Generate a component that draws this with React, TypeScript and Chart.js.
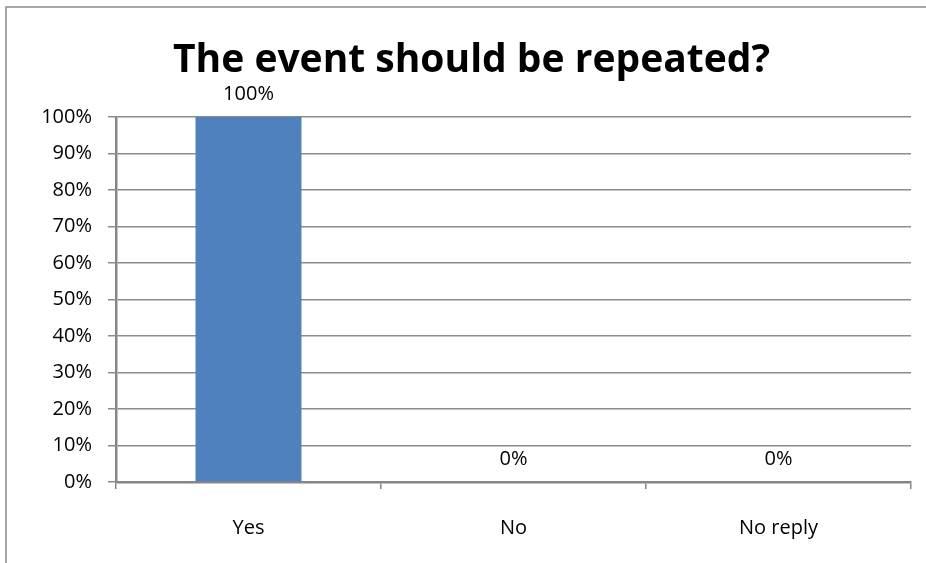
import React, { useEffect, useRef } from "react";
import { Chart, registerables } from "chart.js";

Chart.register(...registerables);

const categories = ["Yes", "No", "No reply"];
const shares = [100, 0, 0];
const yTicks = [0, 10, 20, 30, 40, 50, 60, 70, 80, 90, 100];
const chartTitle = "The event should be repeated?";

const FONT = "'Open Sans', 'DejaVu Sans', sans-serif";

// Outer frame of the chart object: left and top edges only are visible.
const framePlugin = {
  id: "frame",
  beforeDraw(chart: any) {
    const ctx = chart.ctx;
    ctx.save();
    ctx.strokeStyle = "#8a8a8a";
    ctx.lineWidth = 1.5;
    ctx.beginPath();
    ctx.moveTo(6, chart.height);
    ctx.lineTo(6, 7);
    ctx.lineTo(chart.width, 7);
    ctx.stroke();
    ctx.restore();
  },
};

// Percentage labels above each bar.
const valueLabelPlugin = {
  id: "valueLabels",
  afterDatasetsDraw(chart: any) {
    const ctx = chart.ctx;
    const meta = chart.getDatasetMeta(0);
    ctx.save();
    ctx.font = `20px ${FONT}`;
    ctx.fillStyle = "#000";
    ctx.textAlign = "center";
    ctx.textBaseline = "middle";
    meta.data.forEach((bar: any, i: number) => {
      ctx.fillText(`${shares[i]}%`, bar.x, bar.y - 23);
    });
    ctx.restore();
  },
};

export default function App() {
  const canvasRef = useRef<HTMLCanvasElement | null>(null);

  useEffect(() => {
    if (!canvasRef.current) return;
    const chart = new Chart(canvasRef.current, {
      type: "bar",
      data: {
        labels: categories,
        datasets: [
          {
            data: shares,
            backgroundColor: "#4f81bd",
            borderWidth: 0,
            barPercentage: 0.4,
            categoryPercentage: 1,
          },
        ],
      },
      options: {
        animation: false,
        responsive: false,
        devicePixelRatio: 1,
        layout: { padding: { top: 0, right: 15, bottom: 0, left: 32 } },
        plugins: {
          legend: { display: false },
          tooltip: { enabled: false },
          title: {
            display: true,
            text: chartTitle,
            color: "#000",
            font: { family: FONT, size: 39, weight: "bold" },
            padding: { top: 37, bottom: 33 },
          },
        },
        scales: {
          x: {
            grid: {
              display: true,
              drawOnChartArea: false,
              drawTicks: true,
              tickLength: 7,
              color: "#868686",
              lineWidth: 1.5,
              offset: true,
            },
            border: { display: true, color: "#868686", width: 2.5 },
            ticks: {
              color: "#000",
              font: { family: FONT, size: 20 },
              padding: 27,
            },
            afterFit(scale: any) {
              scale.height = 81;
            },
          },
          y: {
            min: 0,
            max: 100,
            afterBuildTicks(scale: any) {
              scale.ticks = yTicks.map((v) => ({ value: v }));
            },
            grid: {
              color: "#8c8c8c",
              lineWidth: 1.5,
              drawTicks: true,
              tickLength: 8,
            },
            border: { display: true, color: "#868686", width: 2.5 },
            ticks: {
              color: "#000",
              font: { family: FONT, size: 20 },
              padding: 16,
              callback: (v: any) => `${v}%`,
            },
            afterFit(scale: any) {
              scale.width = 84;
            },
          },
        },
      },
      plugins: [framePlugin, valueLabelPlugin],
    });
    return () => chart.destroy();
  }, []);

  return (
    <div style={{ position: "fixed", left: 0, top: 0, width: 926, height: 563, background: "#fff" }}>
      <canvas ref={canvasRef} width={926} height={563} />
    </div>
  );
}
